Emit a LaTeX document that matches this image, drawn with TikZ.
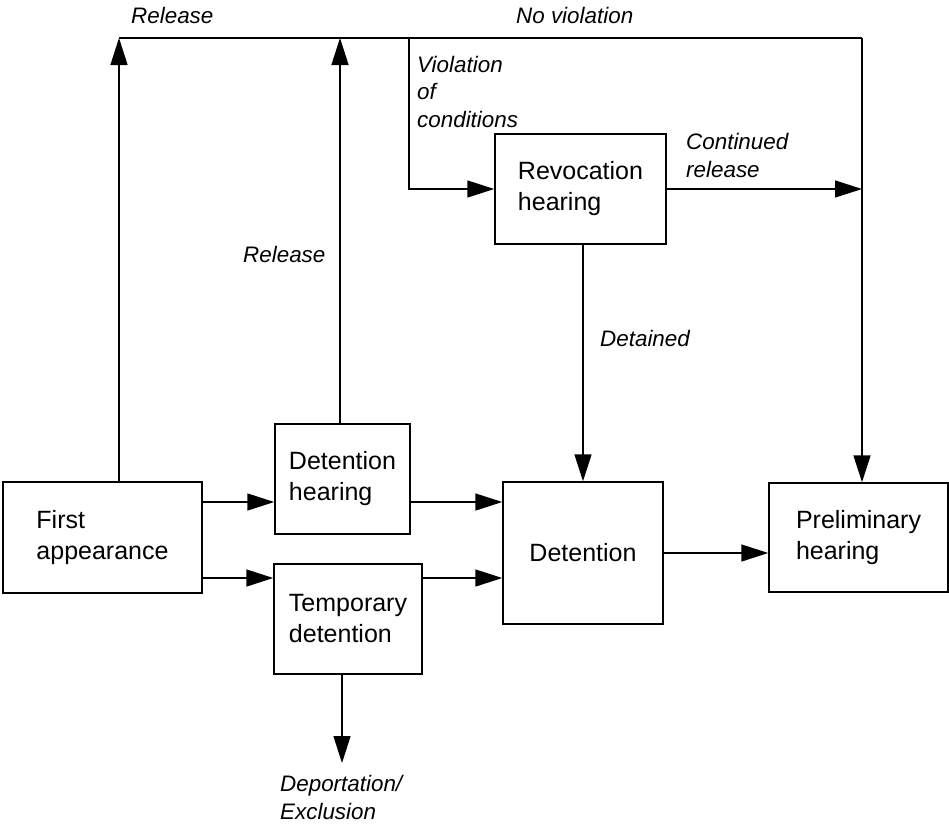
\documentclass[tikz,border=0pt]{standalone}
\usepackage{fontspec}
\setmainfont{Liberation Sans}
\usetikzlibrary{arrows.meta}
\begin{document}
\begin{tikzpicture}[x=1pt,y=-1pt,
                box/.style 2 args={draw,line width=1.5pt,minimum width=#1pt,minimum height=#2pt,inner sep=0pt,align=left,font=\fontsize{25}{31}\selectfont},
                lbl/.style={anchor=base west,inner sep=0pt,align=left,font=\fontsize{22.4}{27.5}\selectfont\itshape},
                arr/.style={-{Triangle[length=27pt,width=17pt]},line width=1.5pt},
                link/.style={-,line width=1.5pt}]
                \useasboundingbox (0,0) rectangle (949,825);
                \node[box={199}{111}] (fa) at (102.5,537.5) {First\\appearance};
                \node[box={135}{110}] (dh) at (342.5,479) {Detention\\hearing};
                \node[box={148}{110}] (td) at (348,619) {Temporary\\detention};
                \node[box={160}{142}] (det) at (583,553) {Detention};
                \node[box={171}{110}] (rh) at (580.5,189) {Revocation\\hearing};
                \node[box={179}{109}] (ph) at (858.5,537.5) {Preliminary\\hearing};
                \coordinate (tl) at (119,38);
                \coordinate (tr) at (862,38);
                \coordinate (vt) at (409,38);
                \coordinate (r1) at (0,502);
                \coordinate (r2) at (0,578);
                \coordinate (dep) at (342,763);
                \draw[link] (tl) -- (tr);
                \draw[arr] (fa.north -| tl) -- (tl);
                \draw[arr] (dh.north -| 340,0) -- (340,38);
                \draw[arr] (tr) -- (tr |- ph.north);
                \draw[arr] (vt) |- (rh.west);
                \draw[arr] (rh.east) -- (rh.east -| tr);
                \draw[arr] (rh.south -| det.north) -- (det.north);
                \foreach \a/\b in {fa/dh,dh/det}
                \draw[arr] (\a.east |- r1) -- (\b.west |- r1);
                \foreach \a/\b in {fa/td,td/det}
                \draw[arr] (\a.east |- r2) -- (\b.west |- r2);
                \draw[arr] (det.east) -- (ph.west |- det.east);
                \draw[arr] (dep |- td.south) -- (dep);
                \draw (131,23) node[lbl] (rel1) {Release};
                \draw (516,23) node[lbl] (nov) {No violation};
                \draw (417,127) node[lbl] (voc) {Violation\\of\\conditions};
                \draw (686,177) node[lbl] (cont) {Continued\\release};
                \draw (243,262) node[lbl] (rel2) {Release};
                \draw (600,346) node[lbl] (dtd) {Detained};
                \draw (280,819) node[lbl] (depl) {Deportation/\\Exclusion};
            \end{tikzpicture}
\end{document}
